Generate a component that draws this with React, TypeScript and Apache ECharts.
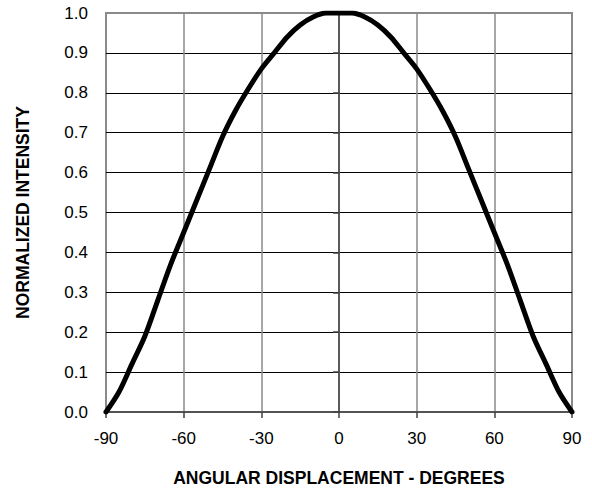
import React, { useEffect, useRef } from "react";
import * as echarts from "echarts";

const angles = [-90, -85, -80, -75, -70, -65, -60, -55, -50, -45, -40, -35, -30, -25, -20, -15, -10, -5, 0, 5, 10, 15, 20, 25, 30, 35, 40, 45, 50, 55, 60, 65, 70, 75, 80, 85, 90];
const intensity = [0.0, 0.05, 0.12, 0.19, 0.28, 0.37, 0.45, 0.53, 0.61, 0.69, 0.755, 0.81, 0.86, 0.9, 0.94, 0.97, 0.99, 1.0, 1.0, 1.0, 0.99, 0.97, 0.94, 0.9, 0.86, 0.81, 0.755, 0.69, 0.61, 0.53, 0.45, 0.37, 0.28, 0.19, 0.12, 0.05, 0.0];
const xTitle = "ANGULAR DISPLACEMENT - DEGREES";
const yTitle = "NORMALIZED INTENSITY";

const FONT = "'Liberation Sans', Arial, sans-serif";

export default function App() {
  const ref = useRef<HTMLDivElement>(null);
  useEffect(() => {
    if (!ref.current) return;
    const chart = echarts.init(ref.current, null, { renderer: "svg" });
    const data = angles.map((a, i) => [a, intensity[i]]);
    chart.setOption({
      animation: false,
      backgroundColor: "#ffffff",
      grid: {
        left: 106,
        right: 20,
        top: 13,
        bottom: 81,
        show: true,
        borderColor: "#8a8a8a",
        borderWidth: 2,
        backgroundColor: "transparent",
      },
      xAxis: {
        type: "value",
        min: -90,
        max: 90,
        interval: 30,
        name: xTitle,
        nameLocation: "middle",
        nameGap: 57,
        nameTextStyle: { fontFamily: FONT, fontSize: 17.5, fontWeight: "bold", color: "#000" },
        axisLine: { show: true, onZero: false, lineStyle: { color: "#404040", width: 1.5 } },
        axisTick: { show: true, inside: false, length: 6, lineStyle: { color: "#404040", width: 1.5 } },
        axisLabel: { margin: 18, fontFamily: FONT, fontSize: 17, color: "#000" },
        splitLine: { show: true, showMinLine: false, showMaxLine: false, lineStyle: { color: "#8a8a8a", width: 1.5 } },
      },
      yAxis: {
        type: "value",
        min: 0,
        max: 1,
        interval: 0.1,
        name: yTitle,
        nameLocation: "middle",
        nameGap: 74,
        nameRotate: 90,
        nameTextStyle: { fontFamily: FONT, fontSize: 17.5, fontWeight: "bold", color: "#000" },
        axisLine: { show: true, lineStyle: { color: "#404040", width: 1.5 } },
        axisTick: { show: true, inside: false, length: 6, lineStyle: { color: "#404040", width: 1.5 } },
        axisLabel: {
          margin: 18,
          fontFamily: FONT,
          fontSize: 17,
          color: "#000",
          formatter: (v: number) => v.toFixed(1),
        },
        splitLine: { show: true, showMinLine: false, showMaxLine: false, lineStyle: { color: "#000", width: 1.2 } },
      },
      series: [
        {
          type: "line",
          data,
          showSymbol: false,
          symbol: "none",
          smooth: 0.3,
          lineStyle: { color: "#000", width: 5, join: "round", cap: "round" },
        },
      ],
    });
    return () => chart.dispose();
  }, []);
  return <div ref={ref} style={{ width: 592, height: 493, position: "absolute", left: 0, top: 0 }} />;
}
